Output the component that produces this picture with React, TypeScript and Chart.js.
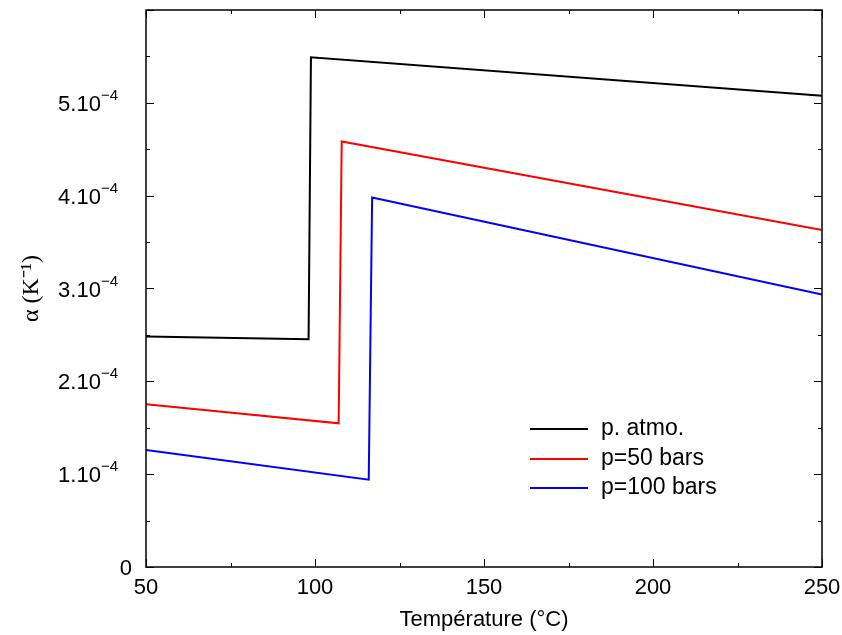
import React, { useEffect, useRef } from "react";
import { Chart, registerables } from "chart.js";

Chart.register(...registerables);

// Data
const tempAtm = [50, 98.1, 98.8, 250];
const alphaAtm = [2.482e-4, 2.454e-4, 5.49e-4, 5.075e-4];

const temp50 = [50, 107.0, 107.9, 250];
const alpha50 = [1.753e-4, 1.548e-4, 4.583e-4, 3.631e-4];

const temp100 = [50, 115.9, 116.9, 250];
const alpha100 = [1.261e-4, 0.941e-4, 3.98e-4, 2.934e-4];

const seriesLabels = ["p. atmo.", "p=50 bars", "p=100 bars"];
const seriesColors = ["#000000", "#ff0000", "#0000ff"];

const xTicks = [50, 100, 150, 200, 250];
const yTickMantissa = ["0", "1.10", "2.10", "3.10", "4.10", "5.10"];
const yTickExponent = ["", "−4", "−4", "−4", "−4", "−4"];

const xTitle = "Température (°C)";
const yTitle = "α (K⁻¹)";

const FONT = "'Liberation Sans', Arial, Helvetica, sans-serif";

const toPoints = (xs: number[], ys: number[]) => xs.map((x, i) => ({ x, y: ys[i] }));

const innerTicksPlugin = {
  id: "innerTicks",
  afterDraw(chart: any) {
    const { ctx, chartArea } = chart;
    const xs = chart.scales.x;
    const ys = chart.scales.y;
    ctx.save();
    ctx.strokeStyle = "#000";
    ctx.lineWidth = 1;
    for (let v = 50; v <= 250; v += 25) {
      const px = Math.round(xs.getPixelForValue(v)) + 0.5;
      const len = v % 50 === 0 ? 8 : 4;
      ctx.beginPath();
      ctx.moveTo(px, chartArea.bottom);
      ctx.lineTo(px, chartArea.bottom - len);
      ctx.moveTo(px, chartArea.top);
      ctx.lineTo(px, chartArea.top + len);
      ctx.stroke();
    }
    for (let i = 0; i <= 12; i++) {
      const v = i * 0.5e-4;
      const py = Math.round(ys.getPixelForValue(v)) + 0.5;
      const len = i % 2 === 0 ? 8 : 4;
      ctx.beginPath();
      ctx.moveTo(chartArea.left, py);
      ctx.lineTo(chartArea.left + len, py);
      ctx.moveTo(chartArea.right, py);
      ctx.lineTo(chartArea.right - len, py);
      ctx.stroke();
    }
    ctx.lineWidth = 1.5;
    ctx.strokeRect(chartArea.left, chartArea.top, chartArea.right - chartArea.left, chartArea.bottom - chartArea.top);

    // y tick labels with superscript exponent
    ctx.fillStyle = "#000";
    ctx.textBaseline = "alphabetic";
    for (let i = 0; i < yTickMantissa.length; i++) {
      const py = ys.getPixelForValue(i * 1e-4);
      const rightEdge = chartArea.left - 28;
      ctx.font = `15px ${FONT}`;
      const ew = yTickExponent[i] ? ctx.measureText(yTickExponent[i]).width : 0;
      ctx.textAlign = "left";
      if (yTickExponent[i]) ctx.fillText(yTickExponent[i], rightEdge - ew, py - 3);
      ctx.font = `22px ${FONT}`;
      ctx.textAlign = "right";
      const mx = yTickExponent[i] ? rightEdge - ew : chartArea.left - 14;
      ctx.fillText(yTickMantissa[i], mx, py + 8);
    }

    // legend
    const lx0 = 530;
    const lx1 = 588;
    const tx = 601;
    const rows = [429, 459, 488];
    ctx.font = `23px ${FONT}`;
    ctx.textBaseline = "middle";
    ctx.textAlign = "left";
    chart.data.datasets.forEach((ds: any, i: number) => {
      ctx.strokeStyle = ds.borderColor;
      ctx.lineWidth = 2;
      ctx.beginPath();
      ctx.moveTo(lx0, rows[i]);
      ctx.lineTo(lx1, rows[i]);
      ctx.stroke();
      ctx.fillStyle = "#000";
      ctx.fillText(ds.label, tx, rows[i]);
    });
    ctx.restore();
  },
};

export default function App() {
  const ref = useRef<HTMLCanvasElement | null>(null);

  useEffect(() => {
    document.body.style.margin = "0";
    const canvas = ref.current;
    if (!canvas) return;
    const zeroPad = (s: any) => {
      s.paddingTop = 0;
      s.paddingBottom = 0;
      s.paddingLeft = 0;
      s.paddingRight = 0;
    };
    const chart = new Chart(canvas, {
      type: "line",
      data: {
        datasets: [
          { label: seriesLabels[0], data: toPoints(tempAtm, alphaAtm), borderColor: seriesColors[0] },
          { label: seriesLabels[1], data: toPoints(temp50, alpha50), borderColor: seriesColors[1] },
          { label: seriesLabels[2], data: toPoints(temp100, alpha100), borderColor: seriesColors[2] },
        ].map((d) => ({
          ...d,
          backgroundColor: d.borderColor,
          borderWidth: 2,
          pointRadius: 0,
          tension: 0,
          fill: false,
        })),
      },
      options: {
        animation: false,
        responsive: false,
        maintainAspectRatio: false,
        layout: { padding: { left: 0, top: 10, right: 20, bottom: 0 } },
        plugins: {
          legend: { display: false },
          tooltip: { enabled: false },
        },
        scales: {
          x: {
            type: "linear",
            min: 50,
            max: 250,
            afterFit: (s: any) => {
              s.height = 68;
              zeroPad(s);
            },
            afterBuildTicks: (s: any) => {
              s.ticks = xTicks.map((v) => ({ value: v }));
            },
            grid: { display: false, drawTicks: false },
            border: { display: false },
            ticks: {
              color: "#000",
              font: { family: FONT, size: 22 },
              padding: 8,
              maxRotation: 0,
            },
            title: {
              display: true,
              text: xTitle,
              color: "#000",
              font: { family: FONT, size: 22 },
              padding: { top: 0, bottom: 2 },
            },
          },
          y: {
            type: "linear",
            min: 0,
            max: 6e-4,
            afterFit: (s: any) => {
              s.width = 146;
              zeroPad(s);
            },
            afterBuildTicks: (s: any) => {
              s.ticks = yTickMantissa.map((_, i) => ({ value: i * 1e-4 }));
            },
            grid: { display: false, drawTicks: false },
            border: { display: false },
            ticks: { display: false },
            title: {
              display: true,
              text: yTitle,
              color: "#000",
              font: { family: "'Liberation Serif', 'Times New Roman', serif", size: 24 },
              padding: { top: 17, bottom: 0 },
            },
          },
        },
      },
      plugins: [innerTicksPlugin],
    });
    return () => chart.destroy();
  }, []);

  return (
    <div style={{ position: "fixed", left: 0, top: 0, width: 842, height: 635, background: "#fff" }}>
      <canvas ref={ref} width={842} height={635} style={{ width: 842, height: 635 }} />
    </div>
  );
}
